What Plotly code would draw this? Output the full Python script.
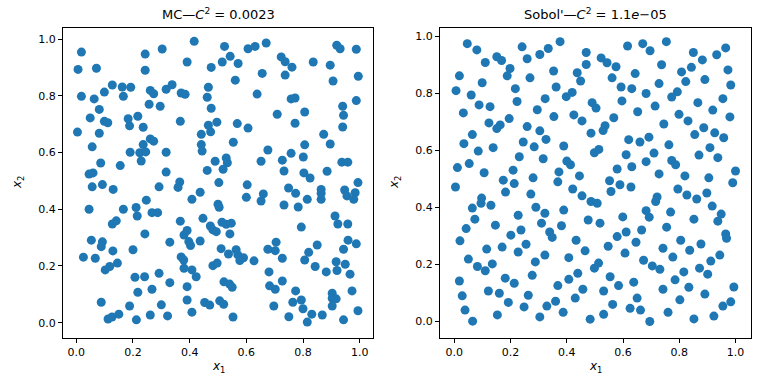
import plotly.graph_objects as go

# Monte Carlo sample (left panel)
mc_x1 = [0.018,0.243,0.303,0.006,0.071,0.243,0.127,0.162,0.192,0.166,0.099,0.063,0.018,0.261,0.273,0.317,0.338,0.257,0.296,0.081,
         0.049,0.099,0.111,0.183,0.217,0.188,0.236,0.004,0.081,0.261,0.273,0.056,0.236,0.190,0.224,0.245,0.317,0.229,0.086,0.155,
         0.045,0.059,0.317,0.092,0.416,0.523,0.606,0.631,0.670,0.543,0.515,0.571,0.391,0.476,0.656,0.561,0.466,0.370,0.384,0.462,
         0.638,0.476,0.367,0.496,0.466,0.568,0.606,0.474,0.441,0.554,0.441,0.444,0.676,0.490,0.529,0.533,0.652,0.462,0.518,0.365,
         0.503,0.603,0.919,0.931,0.988,0.723,0.737,0.761,0.836,0.896,0.737,0.906,0.995,0.758,0.772,0.988,0.940,0.709,0.806,0.943,
         0.772,0.940,0.873,0.896,0.806,0.758,0.727,0.801,0.937,0.958,0.733,0.803,0.825,0.885,0.994,0.056,0.130,0.292,0.247,0.045,
         0.166,0.211,0.215,0.267,0.287,0.127,0.141,0.242,0.053,0.092,0.088,0.129,0.200,0.330,0.025,0.067,0.102,0.118,0.145,0.207,
         0.241,0.292,0.330,0.217,0.267,0.088,0.188,0.300,0.112,0.126,0.150,0.212,0.261,0.322,0.359,0.660,0.600,0.652,0.437,0.408,
         0.500,0.504,0.447,0.367,0.473,0.482,0.494,0.514,0.529,0.547,0.542,0.391,0.380,0.397,0.403,0.437,0.511,0.537,0.564,0.570,
         0.590,0.577,0.627,0.676,0.370,0.379,0.380,0.408,0.423,0.482,0.497,0.680,0.391,0.521,0.541,0.550,0.682,0.391,0.453,0.471,
         0.506,0.520,0.408,0.553,0.697,0.749,0.774,0.815,0.864,0.864,0.864,0.947,0.955,0.984,0.979,0.733,0.783,0.913,0.923,0.958,
         0.794,0.705,0.702,0.727,0.850,0.820,0.806,0.843,0.882,0.917,0.920,0.949,0.966,0.943,0.959,0.988,0.727,0.702,0.774,0.903,
         0.903,0.917,0.903,0.973,0.764,0.794,0.800,0.750,0.831,0.815,0.868,0.943,0.994]
mc_x2 = [0.954,0.947,0.965,0.893,0.897,0.890,0.838,0.831,0.830,0.798,0.813,0.789,0.798,0.819,0.807,0.823,0.839,0.770,0.763,0.752,
         0.722,0.710,0.705,0.719,0.728,0.694,0.689,0.672,0.668,0.648,0.640,0.620,0.628,0.601,0.599,0.602,0.601,0.570,0.563,0.554,
         0.524,0.528,0.531,0.487,0.992,0.974,0.966,0.974,0.986,0.939,0.919,0.914,0.919,0.900,0.879,0.855,0.830,0.810,0.805,0.795,
         0.806,0.756,0.710,0.707,0.696,0.702,0.686,0.673,0.664,0.636,0.628,0.605,0.609,0.569,0.581,0.564,0.569,0.537,0.541,0.496,
         0.494,0.486,0.978,0.966,0.964,0.937,0.920,0.901,0.919,0.908,0.873,0.852,0.869,0.789,0.792,0.783,0.763,0.735,0.743,0.731,
         0.703,0.690,0.664,0.630,0.627,0.597,0.573,0.584,0.566,0.566,0.535,0.528,0.510,0.534,0.494,0.479,0.470,0.479,0.432,0.400,
         0.400,0.406,0.376,0.388,0.388,0.348,0.359,0.313,0.291,0.285,0.268,0.253,0.257,0.284,0.231,0.227,0.186,0.198,0.210,0.160,
         0.162,0.174,0.141,0.107,0.118,0.072,0.059,0.063,0.013,0.020,0.030,0.010,0.027,0.024,0.477,0.454,0.442,0.429,0.460,0.435,
         0.418,0.407,0.368,0.358,0.341,0.327,0.321,0.354,0.347,0.351,0.313,0.325,0.309,0.286,0.272,0.288,0.261,0.242,0.257,0.239,
         0.229,0.219,0.218,0.259,0.232,0.221,0.192,0.186,0.162,0.201,0.210,0.179,0.127,0.144,0.136,0.125,0.130,0.080,0.071,0.062,
         0.077,0.065,0.037,0.020,0.059,0.475,0.456,0.435,0.470,0.456,0.435,0.468,0.447,0.458,0.435,0.415,0.408,0.376,0.348,0.348,
         0.337,0.284,0.254,0.227,0.274,0.248,0.221,0.198,0.179,0.215,0.184,0.206,0.171,0.259,0.291,0.278,0.147,0.118,0.112,0.104,
         0.086,0.084,0.059,0.112,0.072,0.080,0.049,0.021,0.030,0.002,0.027,0.010,0.042]

# Sobol' sample (right panel)
sobol_x1 = [0.046,0.080,0.241,0.110,0.151,0.168,0.259,0.304,0.334,0.018,0.099,0.198,0.188,0.269,0.006,0.060,0.217,0.088,0.127,0.223,
            0.323,0.032,0.295,0.123,0.163,0.151,0.195,0.259,0.304,0.064,0.326,0.034,0.245,0.284,0.085,0.138,0.231,0.316,0.011,0.053,
            0.106,0.209,0.174,0.213,0.280,0.376,0.616,0.670,0.696,0.469,0.522,0.543,0.469,0.575,0.353,0.437,0.449,0.561,0.643,0.362,
            0.593,0.631,0.398,0.419,0.682,0.490,0.504,0.596,0.652,0.354,0.425,0.454,0.567,0.486,0.536,0.529,0.620,0.660,0.692,0.389,
            0.498,0.514,0.611,0.400,0.413,0.682,0.372,0.445,0.579,0.631,0.368,0.552,0.589,0.754,0.850,0.882,0.933,0.965,0.737,0.808,
            0.843,0.973,0.823,0.891,0.728,0.983,0.773,0.793,0.714,0.866,0.919,0.955,0.799,0.831,0.980,0.745,0.887,0.855,0.926,0.958,
            0.763,0.909,0.710,0.870,0.937,0.773,0.787,0.728,0.820,0.905,1.000,0.990,0.004,0.182,0.272,0.097,0.095,0.130,0.064,0.290,
            0.073,0.227,0.322,0.146,0.310,0.042,0.237,0.201,0.339,0.020,0.115,0.170,0.227,0.255,0.322,0.050,0.082,0.110,0.135,0.288,
            0.018,0.181,0.213,0.277,0.028,0.121,0.160,0.263,0.192,0.038,0.248,0.329,0.065,0.153,0.304,0.628,0.557,0.421,0.454,0.486,
            0.508,0.389,0.476,0.518,0.599,0.682,0.693,0.348,0.381,0.433,0.611,0.579,0.666,0.646,0.547,0.465,0.607,0.407,0.498,0.513,
            0.673,0.439,0.407,0.554,0.368,0.457,0.531,0.584,0.638,0.430,0.360,0.563,0.650,0.387,0.483,0.531,0.625,0.662,0.695,0.795,
            0.827,0.862,0.898,0.917,0.721,0.716,0.769,0.852,0.949,0.937,0.755,0.965,0.968,0.805,0.877,0.742,0.837,0.777,0.944,0.912,
            0.704,0.731,0.816,0.872,0.901,0.785,0.742,0.834,0.891,0.994,0.802,0.955,0.983,0.760,0.852,0.923]
sobol_x2 = [0.975,0.953,0.964,0.909,0.929,0.916,0.922,0.937,0.958,0.862,0.838,0.888,0.862,0.855,0.810,0.795,0.817,0.760,0.754,0.772,
            0.782,0.732,0.743,0.697,0.690,0.677,0.712,0.684,0.669,0.656,0.639,0.624,0.630,0.613,0.598,0.610,0.578,0.571,0.540,0.554,
            0.522,0.531,0.496,0.484,0.504,0.982,0.967,0.975,0.950,0.944,0.925,0.908,0.902,0.894,0.879,0.873,0.844,0.855,0.870,0.823,
            0.823,0.817,0.789,0.804,0.800,0.768,0.749,0.774,0.736,0.719,0.725,0.704,0.715,0.661,0.687,0.670,0.638,0.630,0.647,0.616,
            0.592,0.604,0.585,0.563,0.550,0.561,0.525,0.511,0.535,0.543,0.490,0.494,0.480,0.982,0.944,0.918,0.936,0.960,0.901,0.876,
            0.892,0.883,0.842,0.849,0.835,0.830,0.788,0.806,0.756,0.768,0.742,0.782,0.727,0.704,0.718,0.693,0.680,0.656,0.662,0.645,
            0.620,0.610,0.591,0.584,0.575,0.565,0.550,0.518,0.511,0.504,0.528,0.487,0.472,0.454,0.447,0.433,0.415,0.408,0.398,0.401,
            0.359,0.373,0.380,0.338,0.345,0.326,0.321,0.303,0.314,0.283,0.254,0.261,0.244,0.271,0.233,0.219,0.193,0.178,0.202,0.209,
            0.142,0.152,0.134,0.162,0.090,0.107,0.099,0.092,0.067,0.040,0.051,0.054,0.001,0.023,0.016,0.472,0.456,0.465,0.441,0.421,
            0.415,0.391,0.356,0.345,0.367,0.389,0.366,0.295,0.336,0.285,0.314,0.298,0.321,0.278,0.264,0.248,0.240,0.224,0.187,0.205,
            0.215,0.169,0.148,0.157,0.126,0.113,0.107,0.126,0.138,0.082,0.071,0.060,0.082,0.032,0.008,0.025,0.046,0.040,0.000,0.465,
            0.444,0.430,0.451,0.405,0.437,0.421,0.384,0.359,0.377,0.352,0.331,0.307,0.292,0.285,0.272,0.257,0.250,0.226,0.233,0.212,
            0.195,0.183,0.174,0.187,0.166,0.146,0.113,0.120,0.096,0.121,0.076,0.054,0.069,0.032,0.009,0.019]

titles = ["MC—<i>C</i><sup>2</sup> = 0.0023", "Sobol'—<i>C</i><sup>2</sup> = 1.1<i>e</i>−05"]
tick_vals = [0.0, 0.2, 0.4, 0.6, 0.8, 1.0]
tick_text = ["0.0", "0.2", "0.4", "0.6", "0.8", "1.0"]

W, H = 768, 384
BLUE = "#1f77b4"
FONT = "DejaVu Sans"

fig = go.Figure()
fig.add_trace(go.Scatter(x=mc_x1, y=mc_x2, mode="markers", xaxis="x", yaxis="y",
                         marker=dict(color=BLUE, size=9, line=dict(width=0)), showlegend=False))
fig.add_trace(go.Scatter(x=sobol_x1, y=sobol_x2, mode="markers", xaxis="x2", yaxis="y2",
                         marker=dict(color=BLUE, size=9, line=dict(width=0)), showlegend=False))

def px(x):
    return x / W

def py(y):
    return 1 - y / H

axis_common = dict(showgrid=False, zeroline=False, showline=True, mirror=True, linecolor="black",
                   linewidth=1, ticks="outside", ticklen=4, tickwidth=1, tickcolor="black",
                   tickvals=tick_vals, ticktext=tick_text, automargin=False,
                   tickfont=dict(family=FONT, size=11, color="black"))

boxes = [(63, 373), (440, 751)]
ytop, ybot = 28, 338
fig.update_layout(
    width=W, height=H, paper_bgcolor="white", plot_bgcolor="white",
    margin=dict(l=0, r=0, t=0, b=0, autoexpand=False),
    xaxis=dict(domain=[px(boxes[0][0]), px(boxes[0][1])], range=[-0.047, 1.047], anchor="y", **axis_common),
    yaxis=dict(domain=[py(ybot), py(ytop)], range=[-0.054, 1.039], anchor="x", **axis_common),
    xaxis2=dict(domain=[px(boxes[1][0]), px(boxes[1][1])], range=[-0.051, 1.055], anchor="y2", **axis_common),
    yaxis2=dict(domain=[py(ybot), py(ytop)], range=[-0.058, 1.03], anchor="x2", **axis_common),
)

annotations = []
for i, (l, r) in enumerate(boxes):
    cx = (l + r) / 2
    annotations.append(dict(text=titles[i], x=px(cx), y=py(14), xref="paper", yref="paper",
                            showarrow=False, xanchor="center", yanchor="middle",
                            font=dict(family=FONT, size=13, color="black")))
    annotations.append(dict(text="<i>x</i><sub>1</sub>", x=px(cx), y=py(367), xref="paper", yref="paper",
                            showarrow=False, xanchor="center", yanchor="middle",
                            font=dict(family=FONT, size=12, color="black")))
    annotations.append(dict(text="<i>x</i><sub>2</sub>", x=px(l - 45), y=py((ytop + ybot) / 2),
                            xref="paper", yref="paper", showarrow=False, textangle=-90,
                            xanchor="center", yanchor="middle",
                            font=dict(family=FONT, size=12, color="black")))
fig.update_layout(annotations=annotations)

fig.write_html("out.html", config={"displayModeBar": False},
               post_script="document.body.style.margin='0';document.body.style.padding='0';")
